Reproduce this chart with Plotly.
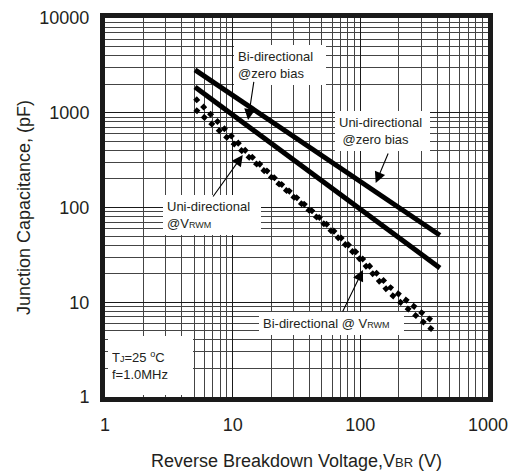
import math
import plotly.graph_objects as go

# ---- Data ----
vbr_solid = [5.07, 420]
uni_zero_bias = [2830, 51]
bi_zero_bias = [1870, 23]

vbr_vrwm = [5.07, 12.9, 23.5, 48.3, 94.1, 170, 384]
uni_vrwm = [1430, 385, 181, 77.5, 33.1, 14.5, 6.0]
bi_vrwm = [1095, 350, 173, 73.8, 30.8, 12.5, 4.85]

x_ticks = [1, 10, 100, 1000]
y_ticks = [1, 10, 100, 1000, 10000]

FONT = "Liberation Sans, Arial, sans-serif"
TXT = "#231f20"

W, H = 512, 471
PX0, PX1, PY0, PY1 = 105, 488, 18, 397  # plot frame in pixels


def px(xw):
    return (xw - PX0) / (PX1 - PX0)


def py(yw):
    return (PY1 - yw) / (PY1 - PY0)


fig = go.Figure()
fig.add_trace(go.Scatter(x=vbr_solid, y=uni_zero_bias, mode="lines",
                         line=dict(color="black", width=5), showlegend=False))
fig.add_trace(go.Scatter(x=vbr_solid, y=bi_zero_bias, mode="lines",
                         line=dict(color="black", width=5), showlegend=False))
fig.add_trace(go.Scatter(x=vbr_vrwm, y=uni_vrwm, mode="lines",
                         line=dict(color="black", width=5, dash="dot"), showlegend=False))
fig.add_trace(go.Scatter(x=vbr_vrwm, y=bi_vrwm, mode="lines",
                         line=dict(color="black", width=5, dash="dot"), showlegend=False))

SUB = "<span style='font-size:9px'>%s</span>"
PAD = 4
# (text, box left px, box centre y px, text width, text height or None)
labels = [
    ("Bi-directional<br>@zero bias", 234, 65, 84, None),
    ("Uni-directional<br>&nbsp;@zero bias", 335, 131, 87, None),
    ("Uni-directional<br>@V" + SUB % "RWM", 163, 215, 90, None),
    ("Bi-directional @ V" + SUB % "RWM", 259, 323, 137, None),
    ("T" + SUB % "J" + "=25 <sup>o</sup>C<br>f=1.0MHz", 108, 365, 77, 51),
]
for text, xl, yc, w, h in labels:
    fig.add_annotation(x=px(xl), y=py(yc), xref="paper", yref="paper", text=text,
                       showarrow=False, xanchor="left", yanchor="middle", align="left",
                       valign="middle", width=w, height=h, bgcolor="white",
                       borderpad=PAD, borderwidth=0,
                       font=dict(family=FONT, size=13, color=TXT))

L = math.log10
arrows = [((13.2, 838), (14.7, 2200)),
          ((132, 181), (167, 385)),
          ((12.0, 358), (6.89, 126)),
          ((104.8, 21.9), (71.8, 7.7))]
for tip, tail in arrows:
    fig.add_annotation(x=L(tip[0]), y=L(tip[1]), ax=L(tail[0]), ay=L(tail[1]),
                       xref="x", yref="y", axref="x", ayref="y", text="",
                       showarrow=True, arrowhead=2, arrowsize=2, arrowwidth=1.1,
                       arrowcolor="black", standoff=0)

axis_common = dict(type="log", showline=True, linecolor="#1a1a1a", linewidth=5, mirror=True,
                   showgrid=True, gridcolor="#1a1a1a", gridwidth=1.3, zeroline=False,
                   automargin=False,
                   ticks="", tickfont=dict(family=FONT, size=18, color=TXT),
                   minor=dict(showgrid=True, gridcolor="#444", gridwidth=1, dtick="D1"))

fig.update_xaxes(**axis_common, range=[0, 3], tickvals=x_ticks,
                 ticktext=[str(v) for v in x_ticks], ticklabelstandoff=7,
                 title=dict(text="Reverse Breakdown Voltage,V<span style='font-size:13px'>BR</span> (V)",
                            font=dict(family=FONT, size=18, color=TXT), standoff=27))
fig.update_yaxes(**axis_common, range=[0, 4], tickvals=y_ticks,
                 ticktext=[str(v) for v in y_ticks], ticklabelstandoff=7,
                 title=dict(text="Junction Capacitance, (pF)",
                            font=dict(family=FONT, size=18, color=TXT), standoff=6))

fig.update_layout(width=W, height=H,
                  margin=dict(l=PX0, r=W - PX1, t=PY0, b=H - PY1),
                  plot_bgcolor="white", paper_bgcolor="white")

fig.write_html("out.html", config={"displayModeBar": False},
               post_script="document.body.style.margin='0';document.body.style.overflow='hidden';")
